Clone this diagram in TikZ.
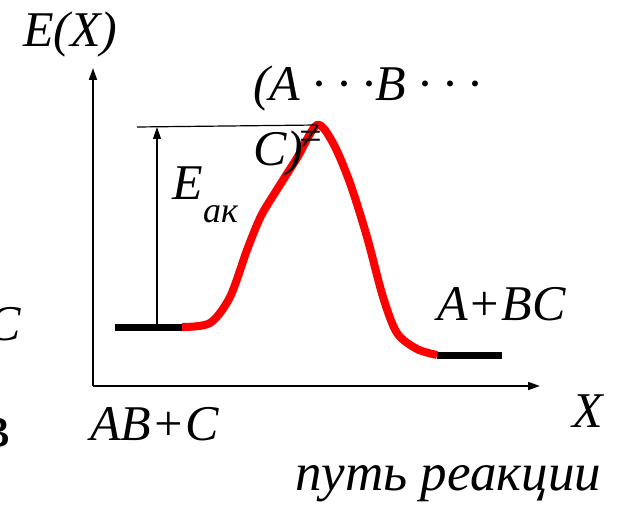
\documentclass[tikz,border=0pt]{standalone}
\usepackage{fontspec}
\setmainfont{LiberationSerif}[Extension=.ttf,UprightFont=*-Regular,ItalicFont=*-Italic,BoldFont=*-Bold,BoldItalicFont=*-BoldItalic]
\usetikzlibrary{arrows.meta}
\tikzset{
 lbl/.style={inner sep=0pt,anchor=base west,font=\itshape\fontsize{50}{56}\selectfont},
 sublbl/.style={inner sep=0pt,anchor=base west,font=\itshape\fontsize{36}{40}\selectfont},
 axis/.style={-{Triangle[length=12pt,width=8pt]},line width=1.8pt},
 level/.style={line width=7pt},
 barrier/.style={red,line width=8pt}
}
\begin{document}
\begin{tikzpicture}[x=1pt,y=-1pt]
\clip (0,0) rectangle (623,505);
% axes
\coordinate (O) at (93,386);
\coordinate (ytip) at (93,68);
\coordinate (xtip) at (540,386);
\draw[axis] (O)--(ytip);
\draw[axis] (O)--(xtip);
\node[lbl] (ylab) at (23,47) {E(X)};
\node[lbl] (xlab) at (572,427) {X};
\node[lbl,font=\itshape\fontsize{53}{58}\selectfont] (path) at (295,490) {путь реакции};
% levels
\coordinate (l1) at (115,327);
\coordinate (l2) at (182,327);
\coordinate (r1) at (437,355);
\coordinate (r2) at (502,355);
\coordinate (ts) at (317,125);
\draw[level] (l1)--(l2);
\draw[level] (r1)--(r2);
\draw[barrier] plot[smooth,tension=0.5] coordinates {(l2) (210,323) (230,297) (247,250) (261,216) (278,188) (297,158) (ts) (333,143) (350,183) (367,237) (383,297) (397,333) (417,349) (r1)};
% activation energy
\coordinate (top) at (137,127);
\coordinate (ea0) at (157,324);
\coordinate (ea1) at (157,127);
\draw[line width=1.2pt] (top)--(ts);
\draw[axis,line width=1.2pt] (ea0)--(ea1);
\node[lbl] (ea) at (172,200) {E};
\node[sublbl] (easub) at (203,222) {ак};
% labels
\node[lbl] (tsa) at (253,101) {(A · · ·B · · ·};
\node[lbl] (tsc) at (253,165) {C)};
\node[sublbl,font=\itshape\fontsize{40}{44}\selectfont] (tsne) at (299,150) {≠};
\node[lbl] (prod) at (437,320) {A+BC};
\node[lbl] (reac) at (90,440) {AB+C};
\node[lbl] (cut1) at (-13,340) {C};
\node[inner sep=0pt,anchor=base west,font=\fontsize{64}{70}\selectfont] (cut2) at (-20,447) {в};
\end{tikzpicture}
\end{document}
